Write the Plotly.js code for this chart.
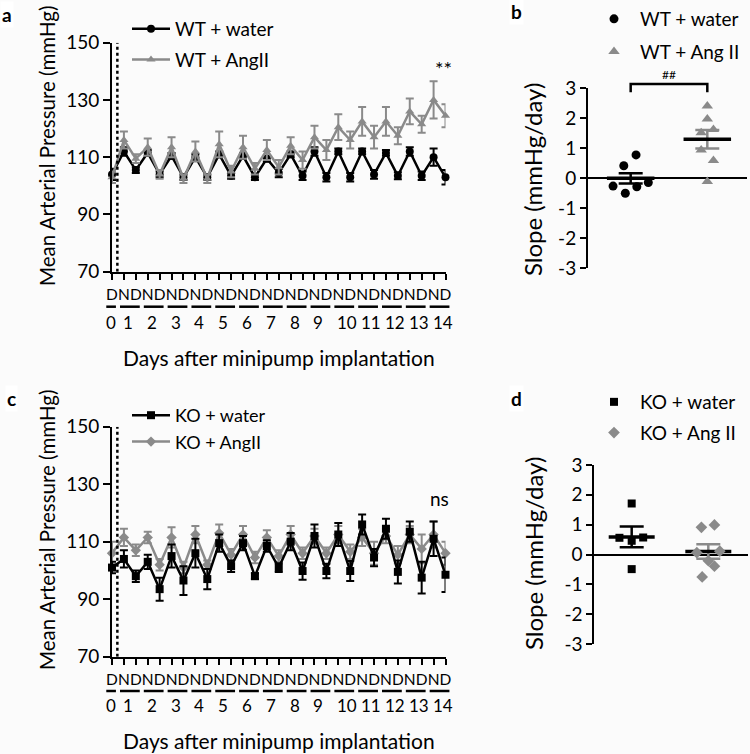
<!DOCTYPE html>
<html>
<head>
<meta charset="utf-8">
<script src="https://cdn.plot.ly/plotly-3.0.1.min.js"></script>
<style>
  body { margin: 0; background: #fbfbfb; }
  #chart { width: 750px; height: 754px; }
</style>
</head>
<body>
<div id="chart"></div>
<script>
// time course labels: D = day, N = night
const dnLabels = ['D','N','D','N','D','N','D','N','D','N','D','N','D','N','D','N','D','N','D','N','D','N','D','N','D','N','D','N','D'];
const dayLabels = ['0','1','2','3','4','5','6','7','8','9','10','11','12','13','14'];

// panel a - mean arterial pressure, WT
const wtWater = [104, 112, 105.5, 111.5, 104, 110.5, 103, 110, 103, 111, 103.5, 110.5, 103, 109.5, 104.5, 111, 103.5, 112, 103, 112, 103, 112, 104, 111.5, 103.5, 112, 103.5, 110, 103];
const wtWaterErr = [2, 1.5, 1, 1, 1, 1, 1, 1, 1, 1, 1, 1, 1, 1, 1.5, 1, 1.5, 1.5, 1.5, 1, 1.5, 1, 1.5, 1, 1.2, 1.5, 1.5, 3, 2.5];
const wtAng = [103, 116, 109.5, 113.5, 104, 113.5, 102.5, 112, 102.5, 114.5, 105, 113.5, 106, 112.5, 106.5, 114, 109, 117, 112.5, 120.5, 116, 122.5, 117, 122.5, 117.5, 126, 121.5, 130, 124.5];
const wtAngErr = [2, 3, 1.5, 3, 1.5, 3.5, 1.5, 3.5, 1.5, 4.5, 2, 4, 2, 3.5, 2.5, 3, 3, 4, 3.5, 4.5, 3, 5, 4, 5, 3, 4.5, 3, 6.5, 4];

// panel c - mean arterial pressure, KO
const koWater = [101, 104, 98, 103, 93.5, 105, 96.5, 106, 97, 109.5, 101.5, 109.5, 98, 108.5, 101, 110, 99.8, 112, 99.8, 112.5, 99.8, 116, 104.5, 114.5, 99.5, 113.5, 97.5, 111, 98.5];
const koWaterErr = [2, 3, 2, 2.5, 4, 4, 5, 5, 3.5, 3, 2, 2.5, 1, 2, 1.5, 3, 3, 4, 2.5, 4, 3.5, 3.5, 3, 3.5, 4, 3.5, 5.5, 6, 6];
const koAng = [106, 111.5, 107, 111.5, 102, 111.5, 101, 112.5, 102, 113, 105.5, 112.5, 104.5, 111.5, 105, 112.5, 106, 112, 106, 112.5, 106.5, 111.5, 106, 112, 105.5, 112.5, 107.5, 112.5, 106];
const koAngErr = [4, 3, 2, 2, 2, 3.5, 2, 3, 1.5, 3, 2, 3, 2, 2.5, 2, 3, 2, 2.5, 2, 3, 2.5, 3, 4, 2.5, 3, 3, 5, 4.5, 4];

// panel b - slopes, WT
const slopeWtWater = [-0.26, 0.42, 0.78, -0.5, -0.28, -0.14];
const slopeWtWaterJit = [-0.23, -0.09, 0.07, -0.07, 0.08, 0.23];
const slopeWtAng = [2.41, 1.98, 1.52, 1.63, 0.94, 0.59, -0.11];
const slopeWtAngJit = [0, 0, -0.08, 0.08, -0.08, 0.08, 0];
const slopeWtMean = [0.0, 1.3];
const slopeWtSem = [0.17, 0.31];

// panel d - slopes, KO
const slopeKoWater = [1.71, 0.56, 0.57, 0.46, -0.49];
const slopeKoWaterJit = [0, -0.16, 0.15, 0, 0];
const slopeKoAng = [0.91, 0.99, 0.06, 0.11, -0.21, -0.39, -0.75];
const slopeKoAngJit = [-0.09, 0.08, -0.15, 0.15, 0, 0.08, -0.08];
const slopeKoMean = [0.59, 0.1];
const slopeKoSem = [0.35, 0.24];

const W = 750, H = 754;
const fx = px => px / W;
const fy = py => 1 - py / H;
const FONT = 'Lato, sans-serif';
const BLACK = '#000000';
const GREY = '#8a8a8a';

const idx = dnLabels.map((_, i) => i);
const timeRange = [0, 28];

function timeTrace(y, err, color, symbol, name, xa, ya, legend, rank) {
  return {
    x: idx, y: y, type: 'scatter', mode: 'lines+markers', name: name,
    xaxis: xa, yaxis: ya, legend: legend, legendrank: rank, legendgroup: name,
    cliponaxis: false,
    line: { color: color, width: 2.5 },
    marker: { color: color, symbol: symbol, size: 8 },
    error_y: { type: 'data', array: err, color: color, thickness: 2, width: 4 }
  };
}

function dotTrace(vals, jit, cat, color, symbol, size, name, xa, ya, legend) {
  return {
    x: vals.map((_, i) => cat + jit[i]), y: vals, type: 'scatter', mode: 'markers',
    name: name, xaxis: xa, yaxis: ya, legend: legend, legendgroup: name, cliponaxis: false,
    marker: { color: color, symbol: symbol, size: size }
  };
}

function meanTraces(means, sems, semColors, halfW, xa, ya) {
  const out = [];
  means.forEach((m, i) => {
    const c = i + 1;
    out.push({
      x: [c], y: [m], type: 'scatter', mode: 'markers', xaxis: xa, yaxis: ya,
      showlegend: false, marker: { size: 1, opacity: 0 },
      error_y: { type: 'data', array: [sems[i]], color: semColors[i], thickness: 2.5, width: 12 }
    });
    out.push({
      x: [c - halfW, c + halfW], y: [m, m], type: 'scatter', mode: 'lines',
      xaxis: xa, yaxis: ya, showlegend: false, line: { color: BLACK, width: 3.5 }
    });
  });
  return out;
}

const traces = [
  timeTrace(wtWater, wtWaterErr, BLACK, 'circle', 'WT + water', 'x', 'y', 'legend', 1),
  timeTrace(wtAng, wtAngErr, GREY, 'triangle-up', 'WT + AngII', 'x', 'y', 'legend', 2),
  timeTrace(koAng, koAngErr, GREY, 'diamond', 'KO + AngII', 'x3', 'y3', 'legend3', 2),
  timeTrace(koWater, koWaterErr, BLACK, 'square', 'KO + water', 'x3', 'y3', 'legend3', 1),
  ...meanTraces(slopeWtMean, slopeWtSem, [BLACK, GREY], 0.31, 'x2', 'y2'),
  dotTrace(slopeWtWater, slopeWtWaterJit, 1, BLACK, 'circle', 9, 'WT + water', 'x2', 'y2', 'legend2'),
  dotTrace(slopeWtAng, slopeWtAngJit, 2, GREY, 'triangle-up', 10, 'WT + Ang II', 'x2', 'y2', 'legend2'),
  ...meanTraces(slopeKoMean, slopeKoSem, [BLACK, GREY], 0.3, 'x4', 'y4'),
  dotTrace(slopeKoWater, slopeKoWaterJit, 1, BLACK, 'square', 8, 'KO + water', 'x4', 'y4', 'legend4'),
  dotTrace(slopeKoAng, slopeKoAngJit, 2, GREY, 'diamond', 9, 'KO + Ang II', 'x4', 'y4', 'legend4')
];

const timeX = (domPx) => ({
  domain: [fx(domPx[0]), fx(domPx[1])], range: timeRange, showgrid: false, zeroline: false,
  showline: true, linewidth: 2, linecolor: BLACK,
  ticks: 'outside', ticklen: 6, tickwidth: 2, tickcolor: BLACK,
  tickvals: idx, ticktext: dnLabels, tickangle: 0,
  tickfont: { family: FONT, size: 15.5, color: BLACK },
  ticklabelstandoff: 2
});
const timeY = (top, bottom) => ({
  domain: [fy(bottom), fy(top)], range: [70, 150], tickvals: [70, 90, 110, 130, 150],
  showgrid: false, zeroline: false, showline: true, linewidth: 2, linecolor: BLACK,
  ticks: 'outside', ticklen: 7, tickwidth: 2, tickcolor: BLACK,
  tickfont: { family: FONT, size: 19, color: BLACK }
});
const slopeTicks = [-3, -2, -1, 0, 1, 2, 3];
const slopeY = (top, bottom, xa) => ({
  domain: [fy(bottom), fy(top)], range: [-3, 3], anchor: xa,
  tickvals: slopeTicks, ticktext: slopeTicks.map(String),
  showgrid: false, zeroline: true, zerolinecolor: BLACK, zerolinewidth: 2,
  showline: true, linewidth: 2, linecolor: BLACK,
  ticks: 'outside', ticklen: 6, tickwidth: 2, tickcolor: BLACK,
  tickfont: { family: FONT, size: 19, color: BLACK }
});
const slopeX = (domPx, range) => ({
  domain: [fx(domPx[0]), fx(domPx[1])], range: range, visible: false
});

const legendBase = (x, y, gap, itemW, size) => ({
  x: fx(x), y: fy(y), xanchor: 'left', yanchor: 'top', bgcolor: 'rgba(0,0,0,0)',
  font: { family: FONT, size: size, color: BLACK }, itemwidth: itemW, tracegroupgap: gap
});

// underline segments under the D/N labels, one per day
const frac = (v, r) => (v - r[0]) / (r[1] - r[0]);
function daySegments(xref, yPx) {
  return dayLabels.map((_, k) => ({
    type: 'line', xref: xref + ' domain', yref: 'paper',
    x0: frac(k === 0 ? -0.48 : 2 * k - 1.33, timeRange), x1: frac(2 * k + 0.33, timeRange),
    y0: fy(yPx), y1: fy(yPx), line: { color: BLACK, width: 2.5 }
  }));
}
function dayNumbers(xref, yPx) {
  return dayLabels.map((t, k) => ({
    xref: xref, yref: 'paper', x: k === 0 ? 0 : 2 * k - 1, y: fy(yPx),
    xanchor: 'left', yanchor: 'middle', xshift: k === 0 ? -8 : -3,
    text: t, showarrow: false, font: { family: FONT, size: 17, color: BLACK }
  }));
}

const txt = (text, x, y, size, extra) => Object.assign({
  xref: 'paper', yref: 'paper', x: fx(x), y: fy(y), text: text, showarrow: false,
  xanchor: 'center', yanchor: 'middle', font: { family: FONT, size: size, color: BLACK }
}, extra || {});

const slopeBRange = [0.443, 2.518];
const bracketY = v => frac(v, [-3, 3]);

const layout = {
  width: W, height: H, margin: { l: 0, r: 0, t: 0, b: 0 },
  paper_bgcolor: '#fbfbfb', plot_bgcolor: 'rgba(0,0,0,0)',
  hovermode: false,
  xaxis: Object.assign(timeX([112, 445.5]), { anchor: 'y' }),
  yaxis: Object.assign(timeY(42.7, 271.7), { anchor: 'x' }),
  xaxis3: Object.assign(timeX([112, 445.5]), { anchor: 'y3' }),
  yaxis3: Object.assign(timeY(426.7, 656.7), { anchor: 'x3' }),
  xaxis2: Object.assign(slopeX([588, 747], slopeBRange), { anchor: 'y2' }),
  yaxis2: slopeY(88.3, 268.3, 'x2'),
  xaxis4: Object.assign(slopeX([594.3, 748], [0.512, 2.518]), { anchor: 'y4' }),
  yaxis4: slopeY(465, 644, 'x4'),
  legend: legendBase(127, 10, 3, 38, 19),
  legend3: legendBase(127, 397, 0, 38, 18),
  legend2: legendBase(588, 0, 5, 42, 19),
  legend4: legendBase(588, 383, 3, 42, 19),
  shapes: [
    { type: 'line', xref: 'x', yref: 'y', x0: 0.45, x1: 0.45, y0: 70, y1: 150,
      line: { color: BLACK, width: 2.5, dash: 'dot' } },
    { type: 'line', xref: 'x3', yref: 'y3', x0: 0.45, x1: 0.45, y0: 70, y1: 150,
      line: { color: BLACK, width: 2.5, dash: 'dot' } },
    { type: 'path', xref: 'x2', yref: 'y2 domain',
      path: `M1,${bracketY(2.87)} L1,${bracketY(3.14)} L2,${bracketY(3.14)} L2,${bracketY(2.87)}`,
      line: { color: BLACK, width: 2.5 } },
    ...daySegments('x', 306.7),
    ...daySegments('x3', 691)
  ],
  annotations: [
    ...dayNumbers('x', 322),
    ...dayNumbers('x3', 705),
    txt('Days after minipump implantation', 279, 357, 21),
    txt('Days after minipump implantation', 279, 740, 21),
    txt('Mean Arterial Pressure (mmHg)', 47, 146, 20.5, { textangle: -90 }),
    txt('Mean Arterial Pressure (mmHg)', 47, 530, 20.5, { textangle: -90 }),
    txt('Slope (mmHg/day)', 532, 180, 24, { textangle: -90 }),
    txt('Slope (mmHg/day)', 533, 554, 24, { textangle: -90 }),
    { xref: 'x', yref: 'y', x: 27.8, y: 141, text: '**', showarrow: false, yanchor: 'middle',
      font: { family: FONT, size: 20, color: BLACK } },
    { xref: 'x3', yref: 'y3', x: 27.5, y: 125, text: 'ns', showarrow: false, yanchor: 'middle',
      font: { family: FONT, size: 19, color: BLACK } },
    { xref: 'x2', yref: 'paper', x: 1.5, y: fy(75), text: '##', showarrow: false, yanchor: 'middle',
      font: { family: FONT, size: 12, color: BLACK } },
    txt('<b>a</b>', 7, 14, 19, { bgcolor: '#ffffff' }),
    txt('<b>b</b>', 516, 12, 19, { bgcolor: '#ffffff' }),
    txt('<b>c</b>', 11, 398, 19, { bgcolor: '#ffffff' }),
    txt('<b>d</b>', 516, 398, 19, { bgcolor: '#ffffff' })
  ]
};

Plotly.newPlot('chart', traces, layout, { displayModeBar: false, staticPlot: true });
</script>
</body>
</html>
